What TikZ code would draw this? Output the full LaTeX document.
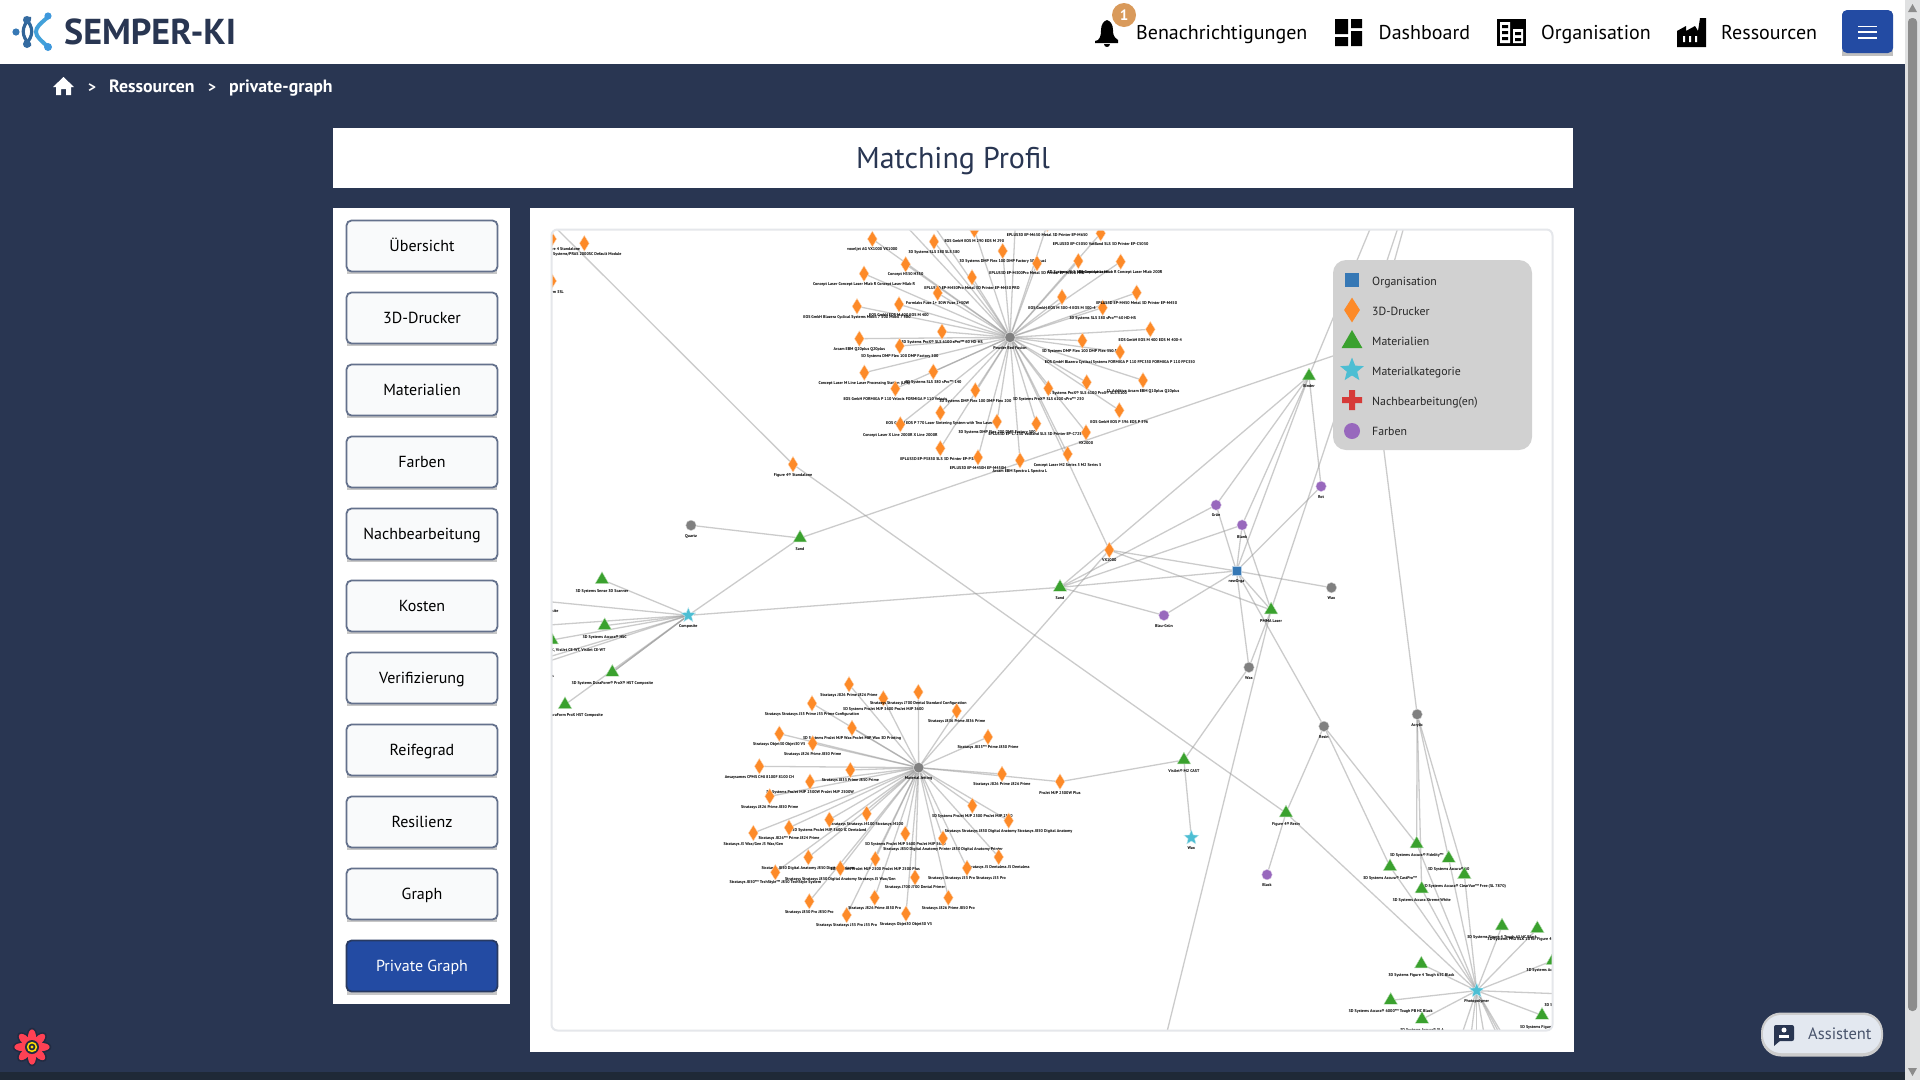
\documentclass[tikz,border=0pt]{standalone}
\usepackage{fontspec}
\setmainfont{PT Sans}
\usetikzlibrary{shapes.geometric,shapes.misc}
\definecolor{navy}{HTML}{293652}
\definecolor{footbar}{HTML}{1F2937}
\definecolor{btnblue}{HTML}{234BA3}
\definecolor{btnline}{HTML}{64718C}
\definecolor{btnfill}{HTML}{F9FAFB}
\definecolor{canvasline}{HTML}{E5E7EB}
\definecolor{cblue}{HTML}{3678B5}
\definecolor{corange}{HTML}{FD8A28}
\definecolor{cgreen}{HTML}{3AA12E}
\definecolor{ccyan}{HTML}{4DBED3}
\definecolor{cred}{HTML}{D63A38}
\definecolor{cpurple}{HTML}{9868BD}
\definecolor{cgrey}{HTML}{808080}
\definecolor{legendbg}{HTML}{D1D1D1}
\definecolor{badge}{HTML}{D99A5B}
\definecolor{pillfill}{HTML}{E3E8F0}
\definecolor{petal}{HTML}{FF4154}
\pgfdeclarelayer{edges}\pgfdeclarelayer{nodes}\pgfdeclarelayer{top}
\pgfsetlayers{main,edges,nodes,top}
\tikzset{
  zthree/.style={shift={(545pt,-225pt)},x=.33333pt,y=-.33333pt},
  zfour/.style={shift={(780pt,-225pt)},x=.33333pt,y=-.33333pt},
  zfive/.style={shift={(545pt,-500pt)},x=.33333pt,y=-.33333pt},
  zsix/.style={shift={(1000pt,-480pt)},x=.35714pt,y=-.33333pt},
  zseven/.style={shift={(720pt,-660pt)},x=.33333pt,y=-.33333pt},
  zeight/.style={shift={(1120pt,-700pt)},x=.33333pt,y=-.33333pt},
  lbl/.style={font=\fontsize{4.1}{4.1}\selectfont\bfseries,text=black,inner sep=0pt},
  edge/.style={draw=black!40,draw opacity=.5,line width=1.3pt},
  dnode/.style={diamond,aspect=.62,minimum width=9.8pt,minimum height=15.8pt,inner sep=0pt,fill=corange,draw=corange!35!white,line width=.4pt},
  tnode/.style={regular polygon,regular polygon sides=3,minimum size=15.6pt,inner sep=0pt,fill=cgreen,draw=cgreen!35!white,line width=.4pt},
  snode/.style={star,star points=5,star point ratio=2.3,minimum size=15.5pt,inner sep=0pt,fill=ccyan,draw=ccyan!35!white,line width=.4pt},
  cnode/.style={circle,minimum size=10.4pt,inner sep=0pt,fill=cgrey,draw=cgrey!35!white,line width=.4pt},
  pnode/.style={circle,minimum size=10.4pt,inner sep=0pt,fill=cpurple,draw=cpurple!35!white,line width=.4pt},
  qnode/.style={rectangle,minimum size=9pt,inner sep=0pt,fill=cblue,draw=cblue!35!white,line width=.4pt},
  menubtn/.style={rectangle,rounded corners=5pt,minimum width=151pt,minimum height=51pt,inner sep=0pt,fill=btnfill,draw=btnline,line width=1.8pt,text=black,font=\fontsize{16}{16}\selectfont,text height=11.2pt,text depth=0pt},
  navtxt/.style={font=\fontsize{20}{20}\selectfont,text=black,anchor=west,inner sep=0pt,text height=14pt,text depth=0pt},
  crumb/.style={font=\fontsize{17.8}{17.8}\selectfont\bfseries,text=white,anchor=west,inner sep=0pt,text height=12.4pt,text depth=0pt},
  legtxt/.style={font=\fontsize{11.8}{11.8}\selectfont,text=black!85,anchor=west,inner sep=0pt,text height=8.3pt,text depth=0pt}
}
\newcommand{\gn}[6]{\node[#1] (#2) at (#3,#4) {}; \node[lbl] (#2-l) at (#3,#5) {#6};}
\begin{document}
\begin{tikzpicture}[x=1pt,y=-1pt]
\useasboundingbox (0,0) rectangle (1920,1080);
% page
\fill[navy] (0,0) rectangle (1920,1080);
\fill[footbar] (0,1072) rectangle (1905,1080);
\fill[white] (0,0) rectangle (1905,64);
\fill[btnfill!90!black] (1905,0) rectangle (1920,1080);
\fill[black!45,rounded corners=4pt] (1908,18) rectangle (1917,1011);
\fill[black!45] (1908,12) -- (1917,12) -- (1912.5,4) -- cycle;
\fill[black!45] (1908,1068) -- (1917,1068) -- (1912.5,1076) -- cycle;
% logo
\draw[line width=3.2pt,cblue!85!black,line cap=round] (25,18) .. controls (34,27) and (34,36) .. (25,45);
\draw[line width=3.2pt,cblue!70!navy,line cap=round] (30,18) .. controls (21,27) and (21,36) .. (30,45);
\fill[cblue] (16,32) circle (3.6);
\fill[cblue!80!navy] (27,20) circle (4);
\fill[cblue!80!navy] (27,44) circle (4);
\draw[line width=4pt,ccyan!85!blue,line cap=round] (48,17) .. controls (40,24) and (36,27) .. (36,32) .. controls (36,37) and (42,41) .. (48,47);
\fill[ccyan!80!blue] (48,16) circle (3.6);
\fill[ccyan!80!blue] (48,47) circle (4);
\node[font=\fontsize{36}{36}\selectfont\bfseries,text=navy,anchor=west,inner sep=0pt,text height=25pt,text depth=0pt] (brand) at (64,31.5) {SEMPER-KI};
% nav
\fill[black] (1098,40) .. controls (1101,37) and (1101,33) .. (1101,30) .. controls (1101,24) and (1104,21) .. (1107,20) .. controls (1110,21) and (1113,24) .. (1113,30) .. controls (1113,33) and (1113,37) .. (1118,40) -- (1118,43) -- (1095,43) -- (1095,41) -- cycle;
\fill[black] (1104,44) -- (1110,44) .. controls (1110,48) and (1104,48) .. (1104,44) -- cycle;
\node[circle,fill=badge,minimum size=24pt,inner sep=0pt,text=white,font=\fontsize{15}{15}\selectfont\bfseries] (bdg) at (1124,15) {1};
\node[navtxt] (nav1) at (1136,32.5) {Benachrichtigungen};
\fill[black] (1335,19) rectangle (1348,34) (1335,37) rectangle (1348,46) (1351,19) rectangle (1362,28) (1351,31) rectangle (1362,46);
\node[navtxt] (nav2) at (1378.5,32.5) {Dashboard};
\fill[black] (1497,19) rectangle (1526,46);
\fill[white] (1500,22) rectangle (1510,43) (1513,29) rectangle (1523,43);
\fill[black] (1502,25) rectangle (1508,28) (1502,31) rectangle (1508,34) (1502,37) rectangle (1508,40) (1515,32) rectangle (1521,35) (1515,38) rectangle (1521,41);
\node[navtxt] (nav3) at (1541,32.5) {Organisation};
\fill[black] (1677,47) -- (1677,31) -- (1686,26) -- (1686,31) -- (1695,26) -- (1698,31) -- (1700,18) -- (1706,18) -- (1706,47) -- cycle;
\fill[white] (1683,36) rectangle (1685,42) (1689,36) rectangle (1691,42) (1695,36) rectangle (1697,42);
\node[navtxt] (nav4) at (1721,32.5) {Ressourcen};
\fill[black!25] (1842,13) rectangle (1893,56);
\node[rectangle,rounded corners=5pt,fill=btnblue,minimum width=51pt,minimum height=43pt,inner sep=0pt] (burger) at (1867.5,31.5) {};
\draw[white,line width=1.8pt] (1858,26.5) -- (1877,26.5) (1858,32.3) -- (1877,32.3) (1858,38) -- (1877,38);
% breadcrumb
\fill[white] (63.5,77) -- (74,87) -- (71,87) -- (71,95) -- (66,95) -- (66,89) -- (61,89) -- (61,95) -- (56,95) -- (56,87) -- (53,87) -- cycle;
\node[crumb,font=\fontsize{15}{15}\selectfont\bfseries] (cg1) at (88,86) {>};
\node[crumb] (c1) at (109,86) {Ressourcen};
\node[crumb,font=\fontsize{15}{15}\selectfont\bfseries] (cg2) at (208,86) {>};
\node[crumb] (c2) at (229,86) {private-graph};
% title
\fill[white] (333,128) rectangle (1573,188);
\node[font=\fontsize{30}{30}\selectfont,text=navy,inner sep=0pt,text height=21pt,text depth=0pt] (title) at (953,158) {Matching Profil};
% side panel
\fill[white] (333,208) rectangle (510,1004);
\fill[white] (530,208) rectangle (1573.5,1052);
\foreach \yy/\tt/\nn in {246/Übersicht/a,318/3D-Drucker/b,390/Materialien/c,462/Farben/d,534/Nachbearbeitung/e,606/Kosten/f,678/Verifizierung/g,750/Reifegrad/h,822/Resilienz/i,894/Graph/j}{
  \fill[black!22] (347,\yy-24) rectangle (497,\yy+28);
  \node[menubtn] (btn\nn) at (422,\yy) {\tt};
}
\fill[black!22] (347,946) rectangle (497,995);
\node[menubtn,fill=btnblue,draw=navy!80!btnblue,text=white] (btnk) at (422,966) {Private Graph};
% flower
\begin{scope}[shift={(32pt,-1047pt)}]
\foreach \a in {0,45,...,315}{\fill[navy!80!black,rotate=\a] (0,-10) ellipse (5.6 and 9.4);}
\foreach \a in {0,45,...,315}{\fill[petal,rotate=\a] (0,-10) ellipse (4 and 7.6);}
\fill[navy!80!black] (0,0) circle (7);
\fill[yellow!80!orange] (0,0) circle (5.2);
\fill[navy!80!black] (0,0) circle (3.4);
\fill[yellow!80!orange] (0,0) circle (1.6);
\end{scope}
% assistant
\node[rectangle,rounded corners=20pt,fill=black!20,minimum width=122pt,minimum height=44pt,inner sep=0pt] (ass0) at (1822,1034.5) {};
\node[rectangle,rounded corners=18pt,fill=pillfill,minimum width=118pt,minimum height=38pt,inner sep=0pt] (ass) at (1822,1034) {};
\fill[navy,rounded corners=2pt] (1774,1025) rectangle (1794,1041);
\fill[navy] (1774,1038) -- (1774,1046) -- (1781,1040) -- cycle;
\fill[white] (1784,1030) circle (2.5);
\fill[white] (1779,1038) rectangle (1789,1035);
\node[font=\fontsize{16.5}{16.5}\selectfont,text=navy!85,anchor=west,inner sep=0pt,text height=11.5pt,text depth=0pt] (asst) at (1808,1034) {Assistent};
% graph nodes
\begin{pgfonlayer}{nodes}
\begin{scope}
\clip[rounded corners=6pt] (552,230) rectangle (1552,1030);
\begin{scope}[zfour]
\gn{cnode}{thub}{690}{337}{368}{Powder Bed Fusion}
\gn{dnode}{t1}{277}{42}{74}{voxeljet AG VX1000 VX1000}
\gn{dnode}{t2}{462}{50}{83}{3D Systems SLS 380 SLS 380}
\gn{dnode}{t3}{583}{15}{47}{EOS GmbH EOS M 290 EOS M 290}
\gn{dnode}{t4}{668}{78}{109}{3D Systems DMP Flex 100 DMP Factory 500 Dual}
\gn{dnode}{t5}{771}{115}{145}{EPLUS3D EP-M300Pro Metal 3D Printer EP-M300 PRO}
\gn{dnode}{t6}{576}{157}{190}{EPLUS3D EP-M450Pro Metal 3D Printer EP-M450 PRO}
\gn{dnode}{t7}{377}{118}{148}{Concept H350 H350}
\gn{dnode}{t8}{252}{146}{178}{Concept Laser Concept Laser Mlab R Concept Laser Mlab R}
\gn{dnode}{t9}{473}{204}{235}{Formlabs Fuse 1+ 30W Fuse 1+30W}
\gn{dnode}{t10}{231}{244}{277}{EOS GmbH Blazera Cyclical Systems Mobil 7 500 Mobil 7 500}
\gn{dnode}{t11}{357}{238}{271}{EOS GmbH EOS M 400 EOS M 400}
\gn{dnode}{t12}{486}{320}{353}{3D Systems ProX® SLS 6100 sPro™ 60 HD-HS}
\gn{dnode}{t13}{238}{341}{374}{Arcam EBM Q20plus Q20plus}
\gn{dnode}{t14}{359}{363}{394}{3D Systems DMP Flex 100 DMP Factory 500}
\gn{dnode}{t15}{253}{443}{476}{Concept Laser M Line Laser Processing Station (LPS)}
\gn{dnode}{t16}{460}{440}{472}{3D Systems SLS 380 sPro™ 140}
\gn{dnode}{t17}{346}{491}{523}{EOS GmbH FORMIGA P 110 Velocis FORMIGA P 110 Velocis}
\gn{dnode}{t18}{586}{496}{529}{3D Systems DMP Flex 100 DMP Flex 200}
\gn{dnode}{t19}{481}{563}{595}{EOS GmbH EOS P 770 Laser Sintering System with Two Lasers}
\gn{dnode}{t20}{361}{598}{631}{Concept Laser X Line 2000R X Line 2000R}
\gn{dnode}{t21}{651}{590}{622}{3D Systems DMP Flex 200 DMP Factory 500}
\gn{dnode}{t22}{769}{596}{628}{EPLUS3D EP-C7250 VatBand SLS 3D Printer EP-C7250}
\gn{dnode}{t23}{481}{670}{703}{EPLUS3D EP-P3850 SLS 3D Printer EP-P3850}
\gn{dnode}{t24}{594}{697}{730}{EPLUS3D EP-M450H EP-M450H}
\gn{dnode}{t25}{720}{706}{739}{Arcam EBM Spectra L Spectra L}
\gn{dnode}{t26}{863}{687}{721}{Concept Laser M2 Series 5 M2 Series 5}
\gn{dnode}{t27}{918}{622}{655}{VX2000}
\gn{dnode}{t28}{1018}{556}{590}{EOS GmbH EOS P 396 EOS P 396}
\gn{dnode}{t29}{1089}{466}{500}{CL Additive Arcam EBM Q10plus Q10plus}
\gn{dnode}{t30}{920}{472}{505}{3D Systems ProX® SLS 6100 ProX® SLS 6100}
\gn{dnode}{t31}{805}{490}{523}{3D Systems ProX® SLS 6100 sPro™ 230}
\gn{dnode}{t32}{907}{347}{380}{3D Systems DMP Flex 100 DMP Flex 350 Dual}
\gn{dnode}{t33}{1020}{381}{412}{EOS GmbH Blazera Cyclical Systems FORMIGA P 110 FPC350 FORMIGA P 110 FPC350}
\gn{dnode}{t34}{1111}{313}{346}{EOS GmbH EOS M 400 EOS M 400-4}
\gn{dnode}{t35}{968}{248}{281}{3D Systems SLS 380 sPro™ 60 HD-HS}
\gn{dnode}{t36}{846}{216}{248}{EOS GmbH EOS M 300-4 EOS M 300-4}
\gn{dnode}{t37}{1070}{203}{235}{EPLUS3D EP-M450 Metal 3D Printer EP-M450}
\gn{dnode}{t38}{1022}{110}{143}{Concept Laser Mlab R Concept Laser Mlab 200R}
\gn{dnode}{t39}{895}{108}{143}{3D Systems SLS 380 Concept Laser}
\gn{dnode}{t40}{962}{25}{56}{EPLUS3D EP-C5050 VatBand SLS 3D Printer EP-C5050}
\gn{dnode}{t41}{802}{-3}{29}{EPLUS3D EP-M650 Metal 3D Printer EP-M650}
\coordinate (toff1) at (329,-50);
\coordinate (toff2) at (426,-50);
\coordinate (toff3) at (708,-50);
\end{scope}
\begin{scope}[zseven]
\gn{cnode}{mhub}{596}{323}{355}{Material Jetting}
\gn{dnode}{m1}{387}{73}{106}{Stratasys J826 Prime J826 Prime}
\gn{dnode}{m2}{490}{115}{148}{3D Systems ProJet MJP 3600 ProJet MJP 3600}
\gn{dnode}{m3}{595}{96}{130}{Stratasys Stratasys J700 Dental Standard Configuration}
\gn{dnode}{m4}{710}{153}{185}{Stratasys J836 Prime J836 Prime}
\gn{dnode}{m5}{276}{130}{163}{Stratasys Stratasys J55 Prime J55 Prime Configuration}
\gn{dnode}{m6}{804}{231}{262}{Stratasys J835™ Prime J850 Prime}
\gn{dnode}{m7}{396}{204}{236}{3D Systems ProJet MJP Wax ProJet MJP Wax 3D Printing}
\gn{dnode}{m8}{178}{221}{254}{Stratasys Objet30 Objet30 V5}
\gn{dnode}{m9}{278}{250}{284}{Stratasys J826 Prime J850 Prime}
\gn{dnode}{m10}{118}{319}{353}{Ansaysames CPMS CMJ 8100F 8100 CH}
\gn{dnode}{m11}{391}{330}{362}{Stratasys J835 Prime J850 Prime}
\gn{dnode}{m12}{270}{365}{397}{3D Systems ProJet MJP 2500W ProJet MJP 2500W}
\gn{dnode}{m13}{149}{409}{443}{Stratasys J826 Prime J850 Prime}
\gn{dnode}{m14}{846}{342}{374}{Stratasys J826 Prime J826 Prime}
\gn{dnode}{m15}{1020}{365}{398}{ProJet MJP 2500W Plus}
\gn{dnode}{m16}{757}{437}{469}{3D Systems ProJet MJP 2500 ProJet MJP 2500}
\gn{dnode}{m17}{866}{482}{515}{Stratasys Stratasys J850 Digital Anatomy Stratasys J850 Digital Anatomy}
\gn{dnode}{m18}{440}{461}{494}{Stratasys Stratasys J4100 Stratasys J4100}
\gn{dnode}{m19}{328}{479}{511}{3D Systems ProJet MJP 3600 IC Dentaland}
\gn{dnode}{m20}{207}{503}{535}{Stratasys J826™ Prime J824 Prime}
\gn{dnode}{m21}{100}{519}{553}{Stratasys J3 Wax/Gen J3 Wax/Gen}
\gn{dnode}{m22}{556}{521}{553}{3D Systems ProJet MJP 5600 ProJet MJP 5600}
\gn{dnode}{m23}{669}{535}{568}{Stratasys J850 Digital Anatomy Printer J850 Digital Anatomy Printer}
\gn{dnode}{m24}{265}{592}{626}{Stratasys J850 Digital Anatomy J850 Digital Anatomy}
\gn{dnode}{m25}{466}{597}{628}{3D Systems ProJet MJP 2500 ProJet MJP 2500 Plus}
\gn{dnode}{m26}{836}{591}{622}{Stratasys J5 Dentaless J5 Dentaless}
\gn{dnode}{m27}{741}{624}{656}{Stratasys Stratasys J55 Pro Stratasys J55 Pro}
\gn{dnode}{m28}{361}{625}{659}{Stratasys Stratasys J850 Digital Anatomy Stratasys J5 Wax/Gen}
\gn{dnode}{m29}{166}{637}{667}{Stratasys J850™ TechStyle™ J850 TechStyle System}
\gn{dnode}{m30}{585}{652}{683}{Stratasys J700 J700 Dental Primer}
\gn{dnode}{m31}{268}{724}{758}{Stratasys J850 Pro J850 Pro}
\gn{dnode}{m32}{464}{713}{745}{Stratasys J826 Prime J850 Pro}
\gn{dnode}{m33}{685}{713}{745}{Stratasys J826 Prime J850 Pro}
\gn{dnode}{m34}{380}{765}{797}{Stratasys Stratasys J55 Pro J55 Pro}
\gn{dnode}{m35}{558}{761}{793}{Stratasys Objet30 Objet30 V5}
\end{scope}
\begin{scope}[zfive]
\gn{snode}{comp}{430}{346}{380}{Composite}
\gn{cnode}{quartz}{438}{76}{110}{Quartz}
\gn{tnode}{sand}{765}{114}{148}{Sand}
\gn{tnode}{l1}{171}{239}{274}{3D Systems Sense 3D Scanner}
\gn{tnode}{l2}{179}{377}{412}{3D Systems Accura® HSC}
\gn{tnode}{l3}{20}{420}{452}{VisiJet CE-CL 200, VisiJet CE-BK, VisiJet CE-WT, VisiJet CE-WT}
\gn{tnode}{l4}{202}{517}{550}{3D Systems DuraForm® ProX® HST Composite}
\gn{tnode}{l5}{60}{614}{647}{3D Systems DuraForm ProX HST Composite}
\gn{tnode}{l6}{-60}{298}{335}{3D Systems Windform® XT Composite}
\gn{tnode}{l7}{-60}{492}{528}{3D Systems DuraForm® GF Glass}
\coordinate (loff1) at (-60,380);
\coordinate (loff2) at (-60,507);
\end{scope}
\begin{scope}[zthree]
\gn{dnode}{a1}{118}{55}{88}{3D Systems/PRAS 2000SC Default Module}
\gn{dnode}{a2}{20}{42}{73}{3D Systems Figure 4 Standalone}
\gn{dnode}{a3}{20}{168}{201}{3SL Form 3SL}
\gn{dnode}{fsa}{744}{718}{751}{Figure 4® Standalone}
\coordinate (tl) at (-20,-44);
\end{scope}
\begin{scope}[zsix]
\gn{qnode}{org}{662}{273}{304}{newOrga}
\gn{pnode}{gruen}{605}{75}{106}{Grün}
\gn{pnode}{blank}{678}{135}{170}{Blank}
\gn{pnode}{rot}{899}{19}{52}{Rot}
\gn{pnode}{bgruen}{459}{406}{439}{Blau-Grün}
\gn{tnode}{sandb}{168}{322}{355}{Sand}
\gn{dnode}{vxk}{306}{210}{241}{VX1000}
\gn{cnode}{waxa}{928}{323}{355}{Wax}
\gn{tnode}{pmma}{759}{390}{424}{PMMA Laser}
\gn{cnode}{waxb}{697}{562}{595}{Wax}
\gn{cnode}{resin}{907}{739}{772}{Resin}
\gn{cnode}{acr}{1168}{703}{736}{Acrylic}
\gn{tnode}{visi}{515}{840}{873}{VisiJet® M2 CAST}
\coordinate (polytop) at (1126,-795);
\coordinate (polybot) at (462,1680);
\end{scope}
\begin{scope}[zeight]
\gn{snode}{swax}{214}{413}{445}{Wax}
\gn{tnode}{fres}{498}{339}{373}{Figure 4® Resin}
\gn{pnode}{black}{441}{524}{556}{Black}
\gn{snode}{photo}{1070}{872}{905}{Photopolymer}
\gn{tnode}{r1}{890}{432}{467}{3D Systems Accura® Fidelity™}
\gn{tnode}{r2}{986}{475}{509}{3D Systems Accura® 60}
\gn{tnode}{r3}{1033}{524}{560}{3D Systems Accura® ClearVue™ Free (SL 7870)}
\gn{tnode}{r4}{810}{500}{536}{3D Systems Accura® CastPro™}
\gn{tnode}{r5}{905}{567}{602}{3D Systems Accura Xtreme White}
\gn{tnode}{r6}{1146}{678}{713}{3D Systems Figure 4 Tough 65 HC Black}
\gn{tnode}{r7}{1252}{686}{718}{3D Systems PRO BLK 10 for Figure 4 Standalone Printers}
\gn{tnode}{r8}{1298}{782}{812}{3D Systems Accura® ClearVue}
\gn{tnode}{r9}{904}{792}{827}{3D Systems Figure 4 Tough 65C Black}
\gn{tnode}{r10}{812}{901}{935}{3D Systems Accura® 6000™ Tough PB HC Black}
\gn{tnode}{r11}{906}{958}{990}{3D Systems Accura® SLA}
\gn{tnode}{r12}{1266}{946}{983}{3D Systems Figure 4 TTG}
\gn{tnode}{r13}{1335}{882}{916}{3D Systems Accura® 25}
\coordinate (boff1) at (1006,1060);
\coordinate (boff2) at (1046,1060);
\coordinate (boff3) at (1070,1060);
\coordinate (boff4) at (1102,1060);
\coordinate (boff5) at (1158,1060);
\coordinate (boff6) at (1181,1060);
\coordinate (boff7) at (1170,1060);
\end{scope}
\gn{tnode}{bind}{1309}{376}{386}{Binder}
\coordinate (sandend) at (1450,316);
\coordinate (linethree) at (1410,205);
\coordinate (linethreeb) at (1350,420);
\coordinate (acrend) at (1365,300);
\coordinate (bindtop) at (1380,205);
\end{scope}
\end{pgfonlayer}
% connectors
\begin{pgfonlayer}{edges}
\begin{scope}
\clip[rounded corners=6pt] (552,230) rectangle (1552,1030);
\foreach \i in {1,...,41}{\draw[edge] (thub) -- (t\i);}
\foreach \i in {1,...,35}{\draw[edge] (mhub) -- (m\i);}
\draw[edge] (thub) -- (toff1);
\draw[edge] (thub) -- (toff2);
\draw[edge] (thub) -- (toff3);
\draw[edge] (thub) -- (vxk);
\draw[edge] (mhub) -- (vxk);
\draw[edge] (m15) -- (visi);
\draw[edge] (visi) -- (swax);
\draw[edge] (visi) -- (waxb);
\draw[edge] (quartz) -- (sand);
\draw[edge] (sand) -- (comp);
\draw[edge] (sand) -- (sandend);
\foreach \n in {l1,l2,l3,l4,l5,l6,l7,loff1,loff2}{\draw[edge] (comp) -- (\n);}
\draw[edge] (l4) -- (comp);
\draw[edge] (comp) -- (sandb);
\draw[edge] (tl) -- (fsa);
\draw[edge] (fsa) -- (fres);
\draw[edge] (fres) -- (photo);
\draw[edge] (fres) -- (resin);
\draw[edge] (fres) -- (black);
\foreach \n in {gruen,blank,org,bgruen,bind}{\draw[edge] (sandb) -- (\n);}
\foreach \n in {gruen,blank,rot,bgruen,waxa,waxb,pmma,resin,bind,vxk}{\draw[edge] (org) -- (\n);}
\draw[edge] (vxk) -- (pmma);
\draw[edge] (blank) -- (pmma);
\draw[edge] (gruen) -- (bind);
\draw[edge] (blank) -- (bind);
\draw[edge] (rot) -- (bind);
\draw[edge] (pmma) -- (waxb);
\draw[edge] (pmma) -- (polytop);
\draw[edge] (pmma) -- (polybot);
\draw[edge] (bind) -- (bindtop);
\draw[edge] (linethree) -- (linethreeb);
\draw[edge] (acr) -- (acrend);
\draw[edge] (resin) -- (r1);
\draw[edge] (resin) -- (r4);
\foreach \n in {r1,r2,r3,r5}{\draw[edge] (acr) -- (\n);}
\foreach \n in {r1,r2,r3,r4,r5,r6,r7,r8,r9,r10,r11,r12,r13,boff1,boff2,boff3,boff4,boff5,boff6,boff7}{\draw[edge] (photo) -- (\n);}
\end{scope}
\end{pgfonlayer}
% canvas border and legend
\begin{pgfonlayer}{top}
\draw[canvasline,line width=2pt,rounded corners=6pt] (551.5,229.5) rectangle (1552.5,1030.5);
\node[rectangle,rounded corners=13pt,fill=legendbg,minimum width=199pt,minimum height=190pt,inner sep=0pt] (legend) at (1432.5,355) {};
\node[qnode,minimum size=14pt,draw=none] (k1) at (1352,280) {};
\node[legtxt] (k1t) at (1372,281) {Organisation};
\node[dnode,minimum width=16pt,minimum height=25pt,draw=none] (k2) at (1352,310) {};
\node[legtxt] (k2t) at (1372,311) {3D-Drucker};
\node[tnode,minimum size=24pt,draw=none] (k3) at (1352,342) {};
\node[legtxt] (k3t) at (1372,341) {Materialien};
\node[snode,minimum size=25pt,draw=none] (k4) at (1352,370) {};
\node[legtxt] (k4t) at (1372,371) {Materialkategorie};
\fill[cred] (1349,390) rectangle (1355,410) (1342,397) rectangle (1362,403);
\node[legtxt] (k5t) at (1372,401) {Nachbearbeitung(en)};
\node[pnode,minimum size=16pt,draw=none] (k6) at (1352,431) {};
\node[legtxt] (k6t) at (1372,431) {Farben};
\end{pgfonlayer}
\end{tikzpicture}
\end{document}
